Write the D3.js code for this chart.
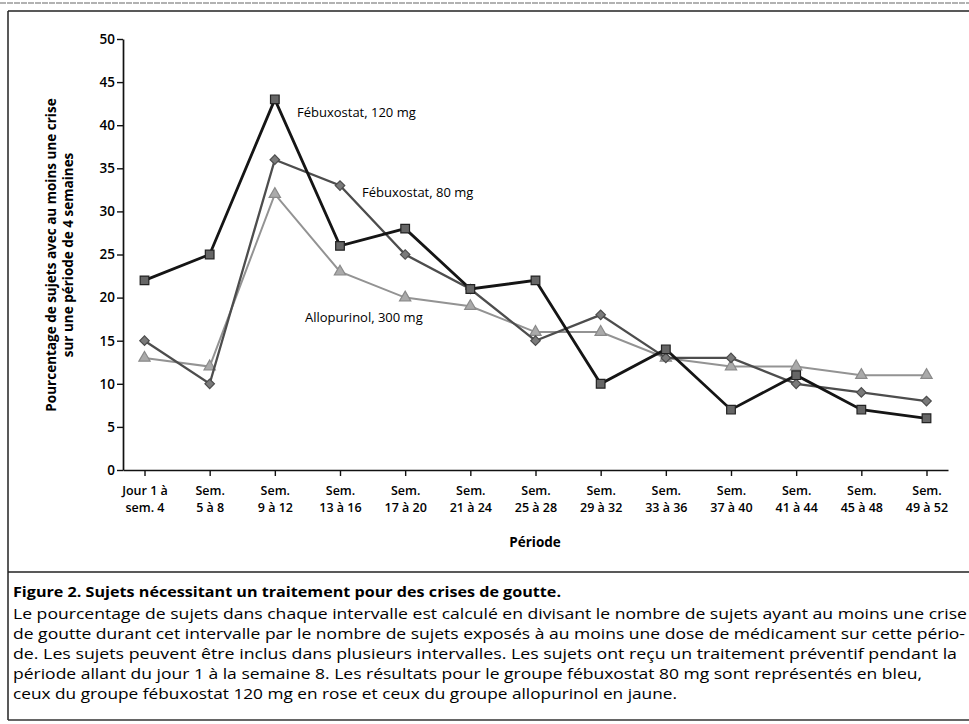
<!DOCTYPE html>
<html><head><meta charset="utf-8">
<script src="https://cdn.jsdelivr.net/npm/d3@7"></script>
<style>body{margin:0;background:#fff} svg{display:block}</style>
</head><body>
<svg id="c" width="969" height="724"></svg>
<script>
// ---- data ----
const periodLine1 = ["Jour 1 à","Sem.","Sem.","Sem.","Sem.","Sem.","Sem.","Sem.","Sem.","Sem.","Sem.","Sem.","Sem."];
const periodLine2 = ["sem. 4","5 à 8","9 à 12","13 à 16","17 à 20","21 à 24","25 à 28","29 à 32","33 à 36","37 à 40","41 à 44","45 à 48","49 à 52"];
const febuxostat120 = [22,25,43,26,28,21,22,10,14,7,11,7,6];
const febuxostat80 = [15,10,36,33,25,21,15,18,13,13,10,9,8];
const allopurinol300 = [13,12,32,23,20,19,16,16,13,12,12,11,11];
const yTickValues = [0,5,10,15,20,25,30,35,40,45,50];
const seriesNames = ["Fébuxostat, 120 mg","Fébuxostat, 80 mg","Allopurinol, 300 mg"];
const yTitleLines = ["Pourcentage de sujets avec au moins une crise","sur une période de 4 semaines"];
const xTitle = "Période";
const captionTitle = "Figure 2. Sujets nécessitant un traitement pour des crises de goutte.";
const captionLines = [
 "Le pourcentage de sujets dans chaque intervalle est calculé en divisant le nombre de sujets ayant au moins une crise",
 "de goutte durant cet intervalle par le nombre de sujets exposés à au moins une dose de médicament sur cette pério-",
 "de. Les sujets peuvent être inclus dans plusieurs intervalles. Les sujets ont reçu un traitement préventif pendant la",
 "période allant du jour 1 à la semaine 8. Les résultats pour le groupe fébuxostat 80 mg sont représentés en bleu,",
 "ceux du groupe fébuxostat 120 mg en rose et ceux du groupe allopurinol en jaune."
];

// ---- drawing ----
const svg = d3.select("#c");
const FONT = "'Open Sans', 'Noto Sans', sans-serif";
const keys = periodLine2.map((d,i)=>i);

const x = d3.scalePoint().domain(keys).range([123, 948]).padding(0.33);
const y = d3.scaleLinear().domain([0, 50]).range([470, 39]);

// frame
svg.append("line").attr("x1",0).attr("x2",969).attr("y1",3).attr("y2",3).attr("stroke","#999").attr("stroke-width",1.5).attr("stroke-dasharray","6,1");
svg.append("line").attr("x1",8).attr("x2",969).attr("y1",11).attr("y2",11).attr("stroke","#222").attr("stroke-width",1.5);
svg.append("line").attr("x1",8).attr("x2",8).attr("y1",11).attr("y2",720).attr("stroke","#222").attr("stroke-width",1.5);
svg.append("line").attr("x1",8).attr("x2",969).attr("y1",572).attr("y2",572).attr("stroke","#222").attr("stroke-width",1.5);
svg.append("line").attr("x1",8).attr("x2",969).attr("y1",720).attr("y2",720).attr("stroke","#333").attr("stroke-width",1.5);

// y axis
const yAxis = svg.append("g").attr("transform","translate(123,0)")
  .call(d3.axisLeft(y).tickValues(yTickValues).tickSize(6).tickSizeOuter(0).tickPadding(2));
yAxis.select(".domain").attr("stroke","#111").attr("stroke-width",1.7);
yAxis.selectAll(".tick line").attr("stroke","#111").attr("stroke-width",1.4);
yAxis.selectAll(".tick text").attr("font-family",FONT).attr("font-size",13.5).attr("font-weight",600).attr("fill","#000");

// x axis
const xAxis = svg.append("g").attr("transform","translate(0,470)")
  .call(d3.axisBottom(x).tickSize(6).tickSizeOuter(0));
xAxis.select(".domain").attr("stroke","#111").attr("stroke-width",1.7);
xAxis.selectAll(".tick line").attr("stroke","#111").attr("stroke-width",1.4);
xAxis.selectAll(".tick text").remove();
xAxis.selectAll(".tick").append("text")
  .attr("text-anchor","middle").attr("font-family",FONT).attr("font-size",12.5).attr("font-weight",600).attr("fill","#000")
  .each(function(d){
    const t = d3.select(this);
    t.append("tspan").attr("x",0).attr("y",25).text(periodLine1[d]);
    t.append("tspan").attr("x",0).attr("y",42).text(periodLine2[d]);
  });

// axis titles
svg.append("text").attr("x",535).attr("y",547).attr("text-anchor","middle")
  .attr("font-family",FONT).attr("font-size",13.5).attr("font-weight",700).attr("fill","#000").text(xTitle);
const yt = svg.append("text").attr("transform","translate(0,255) rotate(-90)")
  .attr("text-anchor","middle").attr("font-family",FONT).attr("font-size",13.5).attr("font-weight",700).attr("fill","#000");
yTitleLines.forEach((l,i)=> yt.append("tspan").attr("x",0).attr("y",56 + i*17).text(l));

// series
const series = [
  {name: seriesNames[2], values: allopurinol300, stroke:"#939393", width:2, fill:"#aaa", mstroke:"#8a8a8a", symbol:d3.symbolTriangle, size:55, rot:0},
  {name: seriesNames[1], values: febuxostat80, stroke:"#4d4d4d", width:2.3, fill:"#7a7a7a", mstroke:"#4d4d4d", symbol:d3.symbolSquare, size:45, rot:45},
  {name: seriesNames[0], values: febuxostat120, stroke:"#151515", width:2.8, fill:"#666", mstroke:"#222", symbol:d3.symbolSquare, size:75, rot:0}
];
const line = d3.line().x((d,i)=>x(i)).y(d=>y(d));
series.forEach(s=>{
  svg.append("path").datum(s.values).attr("d",line).attr("fill","none")
    .attr("stroke",s.stroke).attr("stroke-width",s.width).attr("stroke-linejoin","miter");
  svg.append("g").selectAll("path").data(s.values).join("path")
    .attr("transform",(d,i)=>`translate(${x(i)},${y(d)}) rotate(${s.rot})`)
    .attr("d", d3.symbol().type(s.symbol).size(s.size))
    .attr("fill",s.fill).attr("stroke",s.mstroke).attr("stroke-width",1.2);
});

// series labels
const labelPos = [[297,117],[362,197],[305,322]];
seriesNames.forEach((n,i)=>{
  svg.append("text").attr("x",labelPos[i][0]).attr("y",labelPos[i][1])
    .attr("font-family",FONT).attr("font-size",13).attr("fill","#000").text(n);
});

// caption
svg.append("text").attr("x",13).attr("y",597).attr("font-family",FONT).attr("font-size",14.5)
  .attr("font-weight",700).attr("fill","#000").attr("textLength",548).attr("lengthAdjust","spacingAndGlyphs").text(captionTitle);
const capLens = [954, 952, 944, 909, 664];
captionLines.forEach((l,i)=>{
  svg.append("text").attr("x",13).attr("y",619 + i*20).attr("font-family",FONT).attr("font-size",15)
    .attr("fill","#000").attr("textLength",capLens[i]).attr("lengthAdjust","spacingAndGlyphs").text(l);
});
</script>
</body></html>
